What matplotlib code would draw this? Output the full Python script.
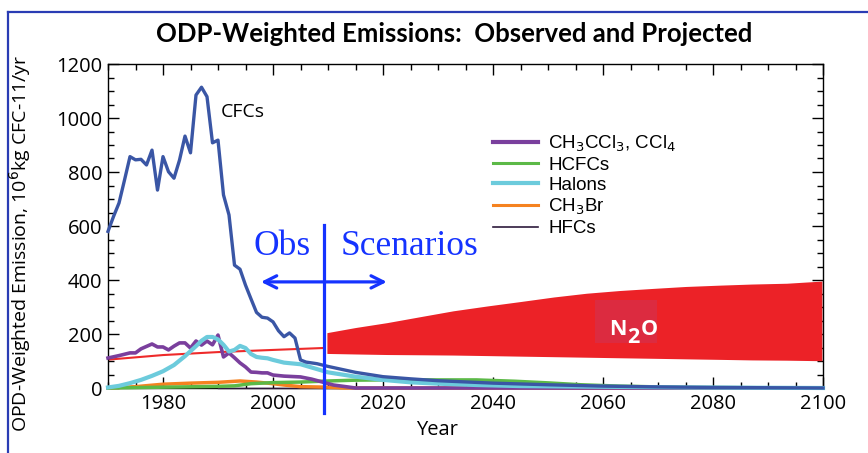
import matplotlib
matplotlib.use("Agg")
import matplotlib.pyplot as plt
from matplotlib.lines import Line2D
from matplotlib.patches import Rectangle
from matplotlib.ticker import MultipleLocator

# ---- data (10^6 kg CFC-11 / yr) ----
cfc_years = [1970, 1971, 1972, 1973, 1974, 1975, 1976, 1977, 1978, 1979, 1980, 1981,
             1982, 1983, 1984, 1985, 1986, 1987, 1988, 1989, 1990, 1991, 1992, 1993,
             1994, 1995, 1996, 1997, 1998, 1999, 2000, 2001, 2002, 2003, 2004, 2005,
             2006, 2008, 2010, 2015, 2020, 2025, 2030, 2040, 2050, 2060, 2070, 2080,
             2090, 2100]
cfc_vals = [580, 635, 685, 770, 857, 845, 847, 826, 881, 733, 857, 801,
            777, 844, 933, 871, 1085, 1114, 1079, 908, 918, 715, 641, 455,
            440, 381, 330, 280, 262, 259, 245, 212, 190, 204, 185, 104,
            96, 90, 80, 58, 42, 34, 27, 18, 12, 7, 4, 2,
            1, 0]

ccl_years = [1970, 1972, 1974, 1975, 1976, 1978, 1979, 1980, 1981, 1982, 1983, 1984,
             1985, 1986, 1987, 1988, 1989, 1990, 1991, 1992, 1993, 1994, 1995, 1996,
             1997, 1998, 1999, 2000, 2002, 2005, 2007, 2009, 2011, 2015, 2100]
ccl_vals = [111, 120, 130, 130, 145, 163, 152, 152, 141, 155, 167, 167,
            148, 174, 159, 174, 160, 196, 115, 130, 112, 93, 78, 59,
            58, 56, 56, 48, 44, 41, 33, 22, 11, 0, 0]

hcfc_years = [1970, 1980, 1990, 1993, 1996, 2000, 2005, 2010, 2015, 2020, 2030, 2037,
              2044, 2050, 2056, 2063, 2075, 2100]
hcfc_vals = [0, 3, 6, 8, 16, 20, 22, 26, 29, 30, 30, 30,
             25, 19, 12, 7, 2, 0]

halon_years = [1970, 1972, 1974, 1976, 1978, 1980, 1982, 1984, 1986, 1987, 1988, 1989,
               1990, 1991, 1992, 1993, 1994, 1995, 1996, 1997, 1998, 1999, 2000, 2002,
               2005, 2008, 2010, 2015, 2020, 2025, 2030, 2037, 2045, 2057, 2075, 2100]
halon_vals = [2, 8, 18, 30, 45, 62, 85, 118, 155, 175, 189, 189,
              180, 160, 135, 141, 156, 148, 126, 115, 112, 110, 104, 94,
              88, 70, 58, 42, 30, 21, 16, 11, 7, 5, 2, 0]

ch3br_years = [1970, 1975, 1980, 1985, 1990, 1994, 1997, 2000, 2002, 2005, 2010, 2013, 2100]
ch3br_vals = [0, 5, 14, 18, 21, 26, 22, 16, 11, 5, 3, 0, 0]

hfc_years = [1990, 2000, 2050, 2100]
hfc_vals = [0, 0, 0, 0]

n2o_obs_years = [1970, 1980, 1990, 2000, 2009]
n2o_obs_vals = [105, 122, 133, 141, 148]

n2o_years = [2009.8, 2015, 2020.7, 2027, 2032.8, 2039, 2044.9, 2051, 2057, 2063,
             2069.2, 2075, 2081.3, 2087, 2093.4, 2099.8]
n2o_high = [205, 224, 242, 265, 286, 304, 320, 337, 351, 361,
            369, 376, 381, 385, 388, 396]
n2o_low = [128, 126, 124, 123, 122, 120, 118, 116, 114, 112,
           110, 108, 106, 104, 103, 101]

legend_labels = ["CH$_3$CCl$_3$, CCl$_4$", "HCFCs", "Halons", "CH$_3$Br", "HFCs"]

# ---- figure ----
fig = plt.figure(figsize=(8.68, 4.53), dpi=100)
ax = fig.add_axes([108 / 868, 1 - 388 / 453, 715 / 868, 324 / 453])

# blue frame around the slide
fig.add_artist(Line2D([8 / 868, 8 / 868], [0, 1 - 12 / 453], transform=fig.transFigure,
                      color="#2a3cb4", lw=1.6))
fig.add_artist(Line2D([8 / 868, 1], [1 - 12 / 453, 1 - 12 / 453], transform=fig.transFigure,
                      color="#2a3cb4", lw=1.6))

ax.fill_between(n2o_years, n2o_low, n2o_high, color="#ec2227", lw=0, zorder=2)
ax.plot(n2o_obs_years, n2o_obs_vals, color="#ee2a2a", lw=1.5, zorder=2)

ax.plot(hfc_years, hfc_vals, color="#2e1a3c", lw=1, zorder=3, clip_on=False)
ax.plot(ch3br_years, ch3br_vals, color="#f58220", lw=2.5, zorder=3, clip_on=False)
ax.plot(hcfc_years, hcfc_vals, color="#5cb947", lw=2.5, zorder=3, clip_on=False)
ax.plot(ccl_years, ccl_vals, color="#7a3f9d", lw=2.6, zorder=4, clip_on=False)
ax.plot(halon_years, halon_vals, color="#6ccbdc", lw=3, zorder=4, clip_on=False)
ax.plot(cfc_years, cfc_vals, color="#3a56a5", lw=2.4, zorder=5, clip_on=False)

# legend (only the five minor groups)
handles = [Line2D([], [], color="#7a3f9d", lw=3),
           Line2D([], [], color="#5cb947", lw=2.2),
           Line2D([], [], color="#6ccbdc", lw=3),
           Line2D([], [], color="#f58220", lw=2.2),
           Line2D([], [], color="#2e1a3c", lw=1.2)]
leg = ax.legend(handles, legend_labels, loc="upper left", bbox_to_anchor=(0.515, 0.838),
                frameon=False, handlelength=2.4, handletextpad=0.55, labelspacing=0.16,
                prop={"family": "Liberation Sans", "size": 13.5})

ax.text(1990.5, 1022, "CFCs", fontsize=14, family="Open Sans", va="center", ha="left")

# N2O label on a slightly darker patch, subscript drawn as its own piece
ax.add_patch(Rectangle((2058.5, 166), 11.4, 160, facecolor="#dc2b40", edgecolor="none",
                       zorder=5))
n2o_font = dict(fontsize=15.5, family="Open Sans", weight="bold", color="white",
                va="baseline", ha="left", zorder=6)
ax.text(2061.1, 196, "N", **n2o_font)
ax.text(2064.4, 165, "2", **n2o_font)
ax.text(2066.8, 196, "O", **n2o_font)

# Obs / Scenarios marker
blue = "#1533ff"
ax.plot([2009.3, 2009.3], [-93, 604], color=blue, lw=2.3, zorder=6, clip_on=False)
ax.annotate("", xy=(1997.3, 393), xytext=(2021.2, 393),
            arrowprops=dict(arrowstyle="<->", color=blue, lw=2.3, mutation_scale=22),
            zorder=6)
ax.text(2001.6, 493, "Obs", fontsize=25.5, family="Liberation Serif", color=blue,
        ha="center", va="baseline")
ax.text(2024.8, 493, "Scenarios", fontsize=25.5, family="Liberation Serif", color=blue,
        ha="center", va="baseline")

ax.set_xlim(1970, 2100)
ax.set_ylim(0, 1200)
ax.xaxis.set_major_locator(MultipleLocator(20))
ax.xaxis.set_minor_locator(MultipleLocator(5))
ax.yaxis.set_major_locator(MultipleLocator(200))
ax.yaxis.set_minor_locator(MultipleLocator(50))
ax.tick_params(which="both", direction="in", top=True, right=True, width=1)
ax.tick_params(which="major", length=8, labelsize=14.5, pad=4)
ax.tick_params(which="minor", length=4)
ax.set_xticks([1980, 2000, 2020, 2040, 2060, 2080, 2100])
for lab in ax.get_xticklabels() + ax.get_yticklabels():
    lab.set_family("Open Sans")
for s in ax.spines.values():
    s.set_linewidth(1)

ax.set_xlabel("Year", fontsize=14.5, family="Open Sans")
ax.xaxis.set_label_coords(0.46, -0.1)
fig.text(20 / 868, 1 - 243 / 453, "OPD-Weighted Emission, 10$^6$kg CFC-11/yr", rotation=90,
         fontsize=14, family="Open Sans", ha="center", va="center")

fig.text(454 / 868, 1 - 34 / 453, "ODP-Weighted Emissions:  Observed and Projected",
         fontsize=18.5, family="Lato", weight="bold", ha="center", va="center")

fig.savefig("out.png", dpi=100)
